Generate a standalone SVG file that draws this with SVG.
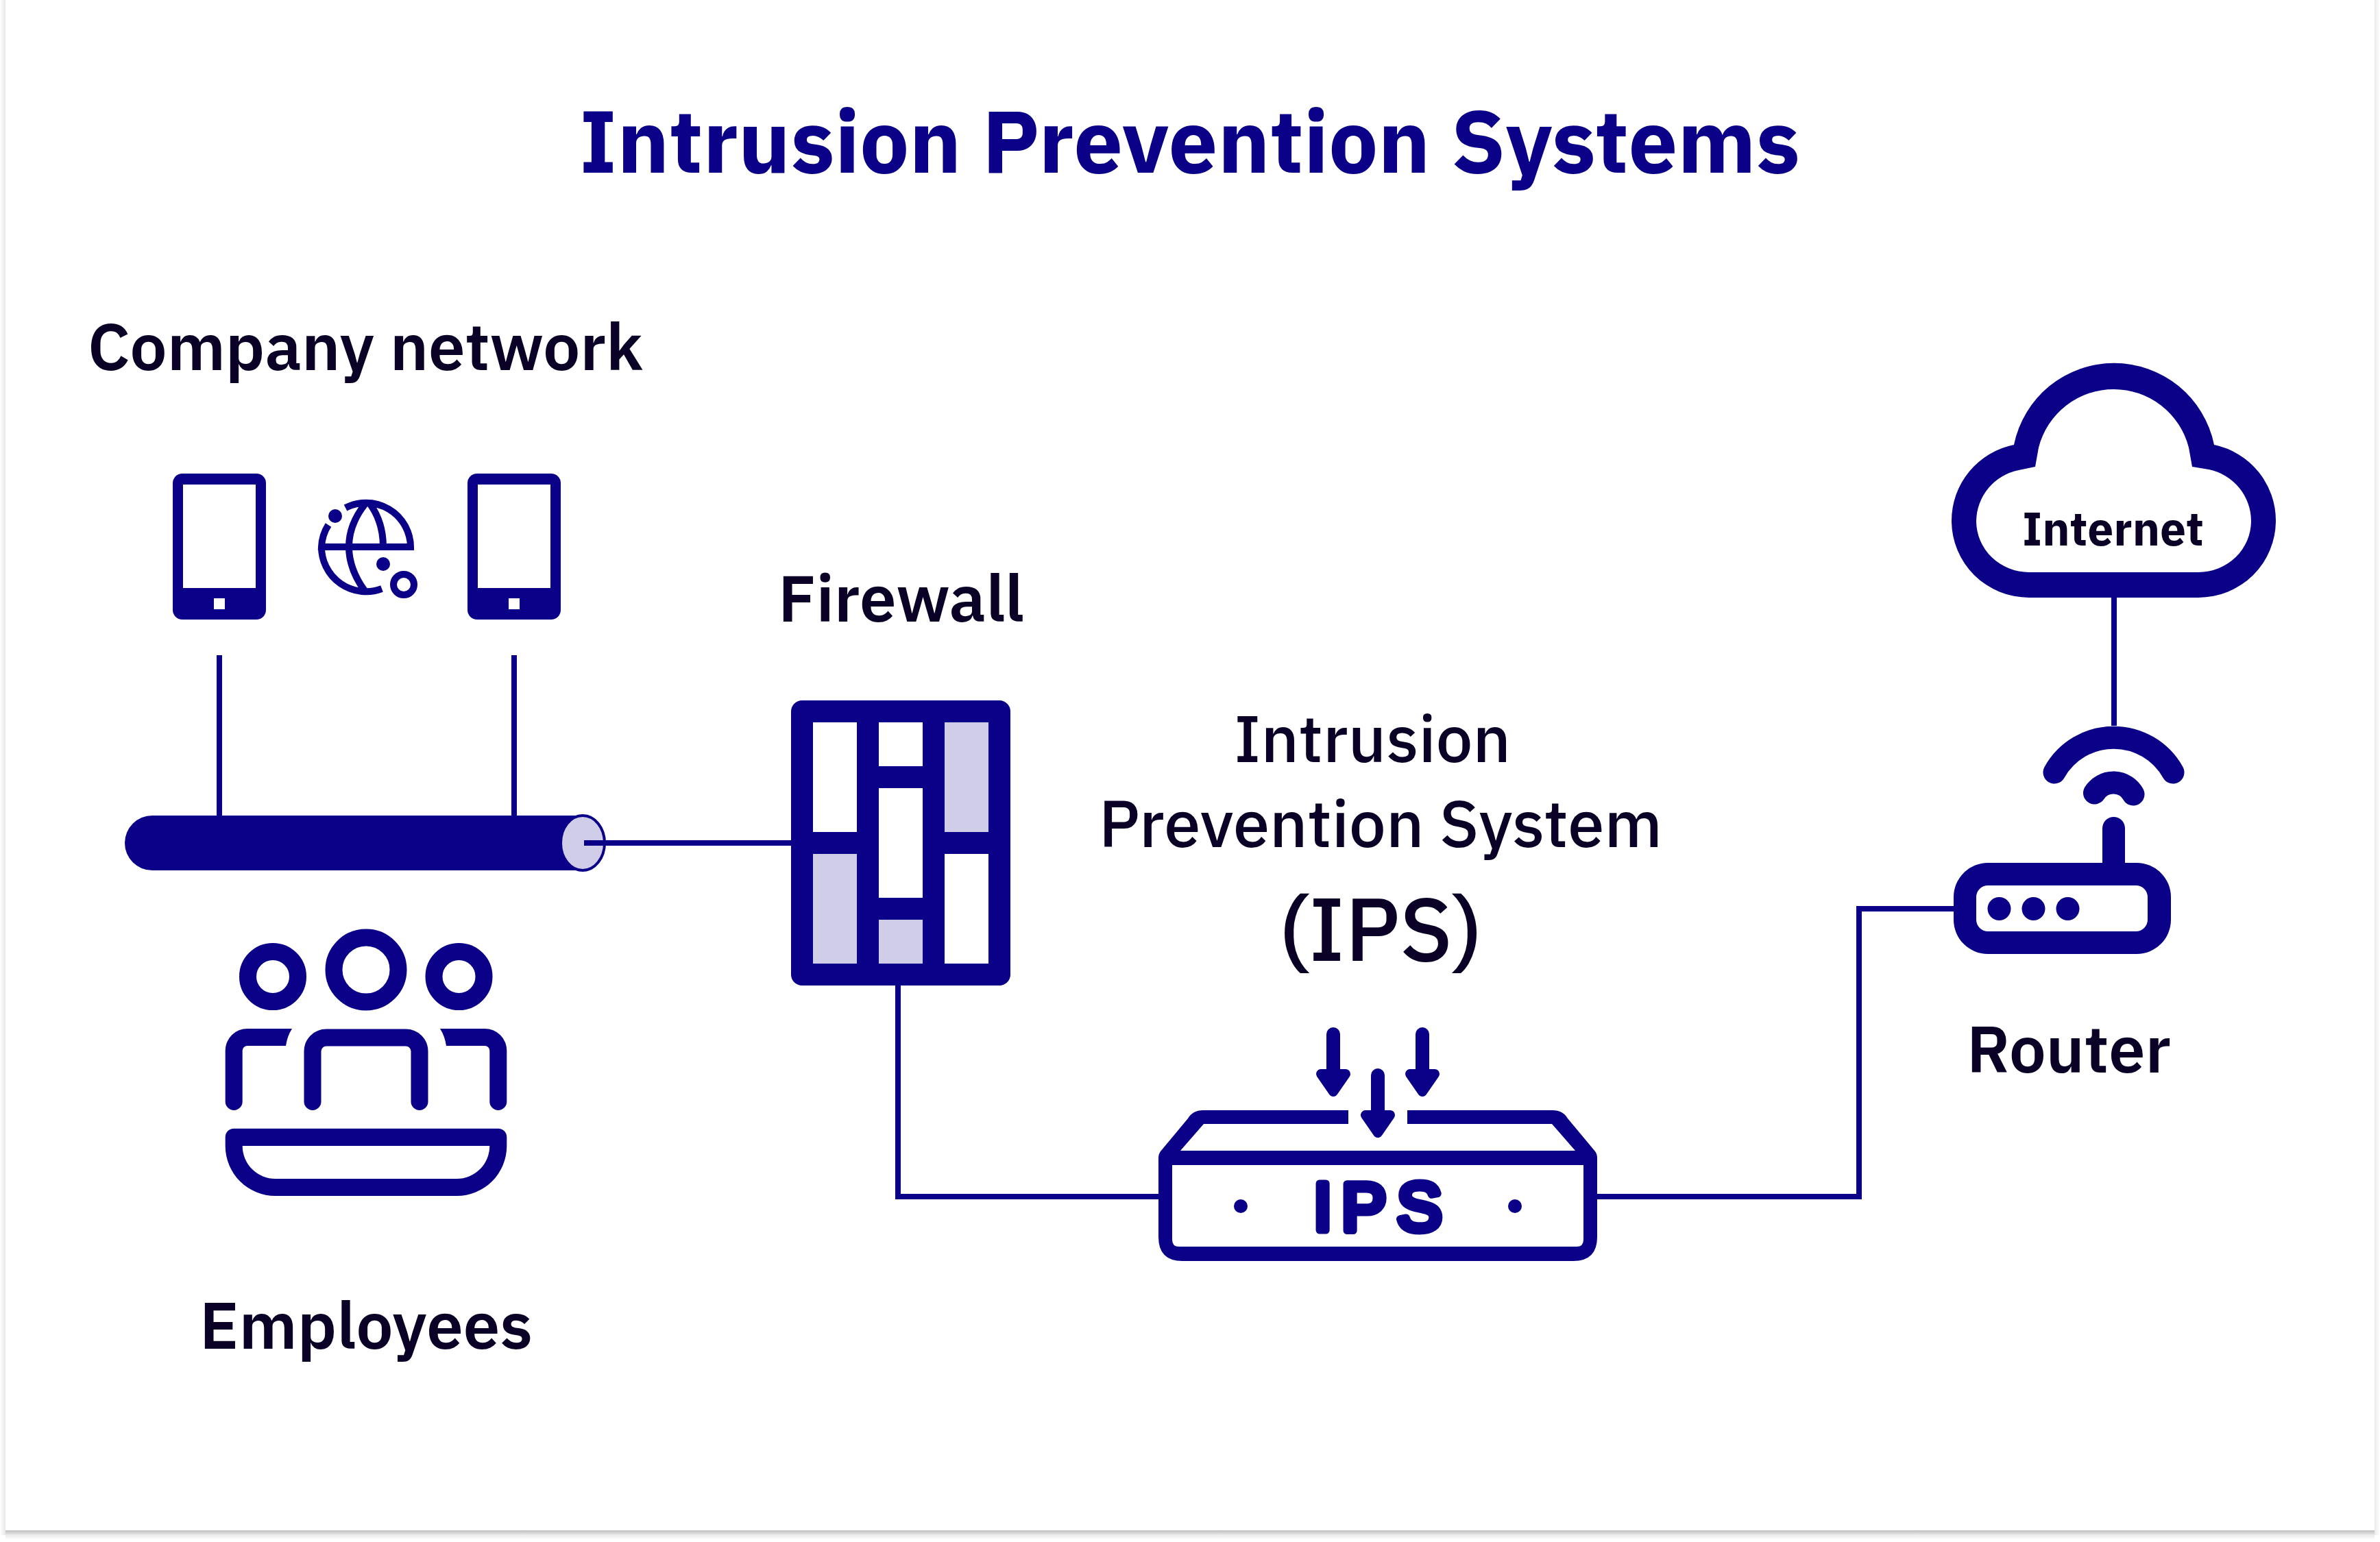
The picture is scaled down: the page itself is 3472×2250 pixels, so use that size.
<svg xmlns="http://www.w3.org/2000/svg" width="3472" height="2250" viewBox="0 0 3472 2250">
<style>
.n{fill:#0b0088}
.w{fill:#fff}
.l{fill:#d0cde9}
.s{fill:none;stroke:#0b0088}
.c{fill:none;stroke:#0b0088;stroke-width:8}
text{font-family:"IBM Plex Sans","Noto Sans","Liberation Sans",sans-serif;fill:#0b0026}
.b{font-weight:600;font-size:96px}
.r{font-weight:500;font-size:96px}
</style>
<defs>
<linearGradient id="sb" x1="0" y1="0" x2="0" y2="1"><stop offset="0" stop-color="#bdbdbd"/><stop offset=".5" stop-color="#ececec"/><stop offset="1" stop-color="#fff"/></linearGradient>
<linearGradient id="sl" x1="1" y1="0" x2="0" y2="0"><stop offset="0" stop-color="#e6e6e6"/><stop offset="1" stop-color="#fff"/></linearGradient>
<linearGradient id="sr" x1="0" y1="0" x2="1" y2="0"><stop offset="0" stop-color="#eaeaea"/><stop offset="1" stop-color="#fff"/></linearGradient>
<g id="phone"><rect class="n" x="0" y="0" width="136" height="213" rx="14"/><rect class="w" x="15" y="16" width="106" height="151"/><rect class="w" x="60" y="182" width="16" height="16"/></g>
<g id="arrow"><path class="s" d="M0 10V70" stroke-width="20" stroke-linecap="round"/><path class="n" stroke="#0b0088" stroke-width="14" stroke-linejoin="round" d="M-18 68H18L0 94Z"/></g>
</defs>
<rect x="0" y="0" width="3472" height="2250" fill="#fff"/>
<rect x="0" y="0" width="8" height="2240" fill="url(#sl)"/>
<rect x="3464" y="0" width="8" height="2240" fill="url(#sr)"/>
<rect x="8" y="2233" width="3456" height="14" fill="url(#sb)"/>
<text id="title" x="845" y="252" style="font-weight:700;font-size:128px;fill:#0b0088" textLength="1781" lengthAdjust="spacingAndGlyphs">Intrusion Prevention Systems</text>
<g id="connectors" class="c">
<path d="M320 956V1190"/><path d="M750 956V1190"/>
<path d="M852 1230H1154"/><path d="M1310 1438V1746H1690"/>
<path d="M2330 1746H2712V1326H2850"/><path d="M3084 872V1059"/>
</g>
<g id="company-network"><text class="b" x="128" y="540" textLength="810" lengthAdjust="spacingAndGlyphs">Company network</text></g>
<g id="phone-1"><use href="#phone" x="252" y="691"/></g>
<g id="phone-2"><use href="#phone" x="682" y="691"/></g>
<g id="globe">
<path class="s" stroke-width="10" d="M504 741A65 65 0 0 1 599 798H469A65 65 0 0 1 479 766M557 859A65 65 0 0 1 469 798M533 735Q509 765 509 798Q509 830 532 862M538 733Q559 760 559 798"/>
<circle class="n" cx="489" cy="753" r="10"/><circle class="n" cx="559" cy="823" r="10"/><circle class="s" stroke-width="10" cx="589" cy="853" r="15"/>
</g>
<g id="bus"><path class="n" d="M222 1190H850V1270H222A40 40 0 0 1 222 1190Z"/><ellipse cx="850" cy="1230" rx="32" ry="40" class="l" stroke="#0b0088" stroke-width="4"/><path class="c" d="M852 1230H884"/></g>
<g id="employees"><text class="b" x="291" y="1968" textLength="486" lengthAdjust="spacingAndGlyphs">Employees</text>
<circle class="s" stroke-width="25" cx="398" cy="1425" r="36.5"/><circle class="s" stroke-width="25" cx="534" cy="1415" r="47"/><circle class="s" stroke-width="25" cx="669.5" cy="1425" r="36.5"/>
<path class="s" stroke-width="25" stroke-linecap="round" d="M456 1607.5V1534A20 20 0 0 1 476 1514H592A20 20 0 0 1 612 1534V1607.5"/>
<path class="n" d="M426 1501H361A32 32 0 0 0 328.7 1533V1607.5A12.5 12.5 0 0 0 353.7 1607.5V1533A7 7 0 0 1 361 1526H417Q419 1512 426 1501Z"/>
<path class="n" transform="translate(1068 0) scale(-1 1)" d="M426 1501H361A32 32 0 0 0 328.7 1533V1607.5A12.5 12.5 0 0 0 353.7 1607.5V1533A7 7 0 0 1 361 1526H417Q419 1512 426 1501Z"/>
<path class="n" fill-rule="evenodd" d="M341 1646.7H727A12.5 12.5 0 0 1 739.3 1659V1672A73 73 0 0 1 666 1745H402A73 73 0 0 1 328.7 1672V1659A12.5 12.5 0 0 1 341 1646.7ZM353.7 1672A48 48 0 0 0 402 1720H666A48 48 0 0 0 714.3 1672Z"/>
</g>
<g id="firewall"><text class="b" x="1135" y="907" textLength="359" lengthAdjust="spacingAndGlyphs">Firewall</text>
<rect class="n" x="1154" y="1022" width="320" height="416" rx="16"/>
<rect class="w" x="1186" y="1054" width="64" height="160"/><rect class="w" x="1282" y="1054" width="64" height="64"/><rect class="l" x="1378" y="1054" width="64" height="160"/>
<rect class="l" x="1186" y="1246" width="64" height="160"/><rect class="w" x="1282" y="1150" width="64" height="160"/><rect class="w" x="1378" y="1246" width="64" height="160"/>
<rect class="l" x="1282" y="1342" width="64" height="64"/>
</g>
<g id="ips-label">
<text class="r" x="1800" y="1112" textLength="404" lengthAdjust="spacingAndGlyphs">Intrusion</text>
<text class="r" x="1603" y="1236" textLength="822" lengthAdjust="spacingAndGlyphs">Prevention System</text>
<text x="1866" y="1402" style="font-size:129px;font-weight:500" textLength="296" lengthAdjust="spacingAndGlyphs">(IPS)</text>
</g>
<g id="ips">
<use href="#arrow" x="1945" y="1499"/><use href="#arrow" x="2075" y="1499"/><use href="#arrow" x="2010" y="1559"/>
<path class="n" fill-rule="evenodd" d="M1967 1620H1755Q1740 1620 1733 1632L1693 1680Q1690 1684 1690 1690V1805Q1690 1840 1725 1840H2295Q2330 1840 2330 1805V1690Q2330 1684 2327 1680L2287 1632Q2280 1620 2265 1620H2053V1640H2264L2298 1679H1722L1756 1640H1967ZM1710 1700V1809Q1710 1819 1720 1819H2300Q2310 1819 2310 1809V1700Z"/>
<circle class="n" cx="1810" cy="1760" r="10"/><circle class="n" cx="2210" cy="1760" r="10"/>
<text x="1916 1957 2038" y="1795" style="font-family:'Liberation Sans',sans-serif;font-size:98px;fill:#0b0088;stroke:#0b0088;stroke-width:11;stroke-linejoin:round;stroke-linecap:round">IPS</text>
</g>
<g id="router">
<text class="b" x="2869" y="1565" textLength="298" lengthAdjust="spacingAndGlyphs">Router</text>
<path class="n" fill-rule="evenodd" d="M2900 1259H3117A50 50 0 0 1 3167 1309V1342A50 50 0 0 1 3117 1392H2900A50 50 0 0 1 2850 1342V1309A50 50 0 0 1 2900 1259ZM2900 1292A17 17 0 0 0 2883 1309V1342A17 17 0 0 0 2900 1359H3116A17 17 0 0 0 3133 1342V1309A17 17 0 0 0 3116 1292Z"/>
<circle class="n" cx="2916.5" cy="1326" r="17"/><circle class="n" cx="2966.5" cy="1326" r="17"/><circle class="n" cx="3016.5" cy="1326" r="17"/>
<path class="s" stroke-width="33" stroke-linecap="round" d="M3083.5 1208.5V1265M2997 1127A99 99 0 0 1 3170 1127M3055.5 1157A33 33 0 0 1 3112 1159"/>
</g>
<g id="internet">
<path class="n" fill-rule="evenodd" d="M2960 872A113 112 0 0 1 2847 760A113 113 0 0 1 2938 649A149 149 0 0 1 3230 649A113 113 0 0 1 3320 760A113 112 0 0 1 3207 872ZM2960 835H3207A77 75 0 0 0 3284 760A77 77 0 0 0 3222 685L3198 681L3193 653A113 113 0 0 0 2974 653L2969 681L2945 686A77 77 0 0 0 2883 760A77 75 0 0 0 2960 835Z"/>
<text x="2950" y="796" style="font-weight:700;font-size:68px" textLength="265" lengthAdjust="spacingAndGlyphs">Internet</text>
</g>
</svg>
